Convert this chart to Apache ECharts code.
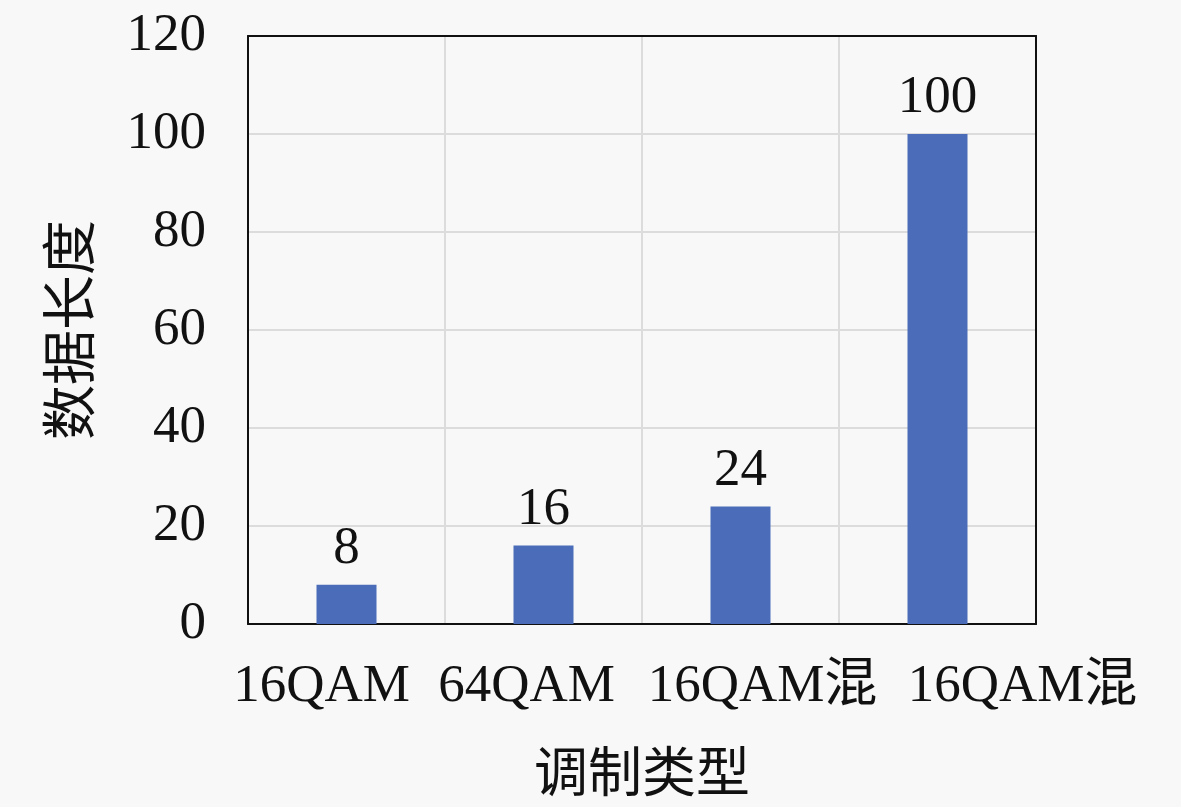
<!DOCTYPE html>
<html><head><meta charset="utf-8">
<script src="https://cdn.jsdelivr.net/npm/echarts@6/dist/echarts.min.js"></script>
<style>html,body{margin:0;padding:0;background:#f8f8f8}#c{width:1181px;height:807px}</style>
</head><body><div id="c"></div>
<script>
const categories = ['16QAM', '64QAM', '16QAM混', '16QAM混'];
const values = [8, 16, 24, 100];
const yTicks = [0, 20, 40, 60, 80, 100, 120];
const xName = '调制类型';
const yName = '数据长度';

const FONT = '"Liberation Serif", "Noto Sans CJK SC", serif';
const CJK = '"Noto Sans CJK SC", sans-serif';
const offsets = [-25, -17, 22, 85];
const rich = {};
offsets.forEach((d, i) => {
  rich['l' + i] = {
    fontFamily: FONT, fontSize: 53, color: '#111',
    padding: d < 0 ? [0, -2 * d, 0, 0] : [0, 0, 0, 2 * d]
  };
});

const chart = echarts.init(document.getElementById('c'));
chart.setOption({
  backgroundColor: '#f8f8f8',
  animation: false,
  grid: { left: 248, right: 145, top: 36, bottom: 183 },
  xAxis: [{
    type: 'category',
    data: categories,
    name: xName,
    nameLocation: 'middle',
    nameGap: 120,
    nameTextStyle: { fontFamily: CJK, fontSize: 54, color: '#111' },
    axisLine: { lineStyle: { color: '#111', width: 2 } },
    axisTick: { show: false },
    splitLine: { show: true, lineStyle: { color: '#dcdcdc', width: 2 } },
    axisLabel: {
      interval: 0, margin: 37,
      formatter: (v, i) => '{l' + i + '|' + v + '}',
      rich: rich
    }
  }, {
    type: 'category',
    position: 'top',
    data: categories,
    axisLine: { onZero: false, lineStyle: { color: '#111', width: 2 } },
    axisTick: { show: false },
    axisLabel: { show: false },
    splitLine: { show: false },
    z: 5
  }],
  yAxis: [{
    type: 'value',
    min: yTicks[0], max: yTicks[yTicks.length - 1], interval: 20,
    name: yName,
    nameLocation: 'middle',
    nameRotate: 90,
    nameGap: 152,
    nameTextStyle: { fontFamily: CJK, fontSize: 55, color: '#111' },
    axisLine: { show: true, lineStyle: { color: '#111', width: 2 } },
    axisTick: { show: false },
    splitLine: { lineStyle: { color: '#dcdcdc', width: 2 } },
    axisLabel: { margin: 42, fontFamily: FONT, fontSize: 53, color: '#111' }
  }, {
    type: 'value',
    position: 'right',
    min: yTicks[0], max: yTicks[yTicks.length - 1], interval: 20,
    axisLine: { show: true, onZero: false, lineStyle: { color: '#111', width: 2 } },
    axisTick: { show: false },
    axisLabel: { show: false },
    splitLine: { show: false },
    z: 5
  }],
  series: [{
    type: 'bar',
    data: values,
    barWidth: 60,
    itemStyle: { color: '#4a6cb9' },
    label: { show: true, position: 'top', distance: 9, fontFamily: FONT, fontSize: 53, color: '#111' }
  }]
});
</script></body></html>
